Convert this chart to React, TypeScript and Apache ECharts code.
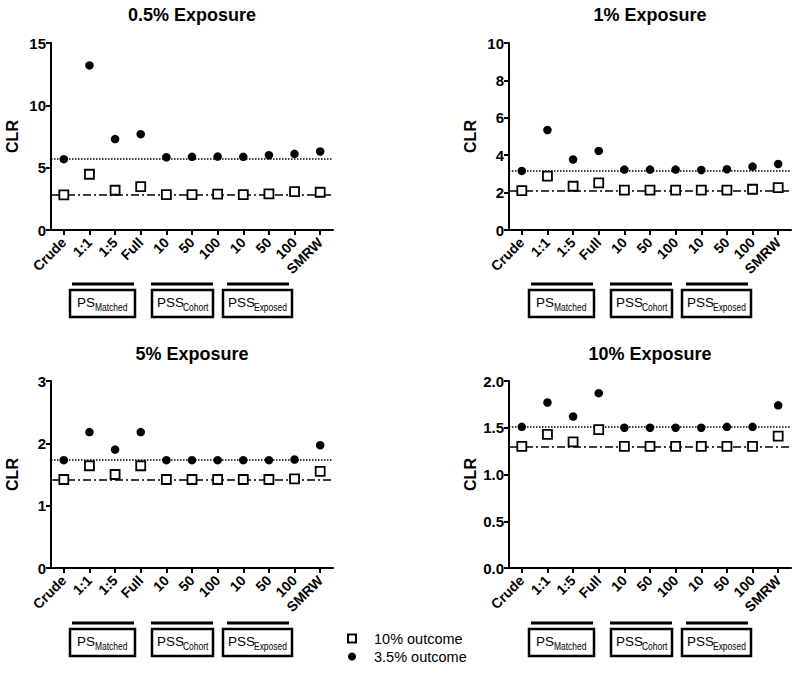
import React, { useEffect, useRef } from "react";
import * as echarts from "echarts";

const CATEGORIES = ["Crude", "1:1", "1:5", "Full", "10", "50", "100", "10", "50", "100", "SMRW"];
const TITLES = ["0.5% Exposure", "1% Exposure", "5% Exposure", "10% Exposure"];
const SERIES_NAMES = ["10% outcome", "3.5% outcome"];

// 0.5% exposure
const P05_OUT10 = [2.81, 4.47, 3.19, 3.48, 2.84, 2.84, 2.87, 2.84, 2.89, 3.08, 3.03];
const P05_OUT35 = [5.68, 13.2, 7.29, 7.69, 5.84, 5.87, 5.89, 5.87, 6.0, 6.11, 6.3];
// 1% exposure
const P1_OUT10 = [2.11, 2.88, 2.34, 2.52, 2.13, 2.13, 2.13, 2.13, 2.13, 2.18, 2.27];
const P1_OUT35 = [3.16, 5.35, 3.77, 4.23, 3.23, 3.23, 3.23, 3.21, 3.25, 3.39, 3.53];
// 5% exposure
const P5_OUT10 = [1.42, 1.64, 1.5, 1.64, 1.42, 1.42, 1.42, 1.42, 1.42, 1.43, 1.55];
const P5_OUT35 = [1.73, 2.18, 1.9, 2.18, 1.73, 1.73, 1.73, 1.73, 1.73, 1.74, 1.97];
// 10% exposure
const P10_OUT10 = [1.3, 1.43, 1.35, 1.48, 1.3, 1.3, 1.3, 1.3, 1.3, 1.3, 1.41];
const P10_OUT35 = [1.51, 1.77, 1.62, 1.87, 1.5, 1.5, 1.5, 1.5, 1.51, 1.51, 1.74];

// reference lines (crude values)
const REF_DOTTED = [5.68, 3.16, 1.73, 1.51];
const REF_DASHDOT = [2.81, 2.11, 1.42, 1.3];

const Y_MAX = [15, 10, 3, 2];
const Y_INTERVAL = [5, 2, 1, 0.5];
const Y_DECIMALS = [0, 0, 0, 1];

const GROUP_MAIN = ["PS", "PSS", "PSS"];
const GROUP_SUB = ["Matched", "Cohort", "Exposed"];

const OUT10 = [P05_OUT10, P1_OUT10, P5_OUT10, P10_OUT10];
const OUT35 = [P05_OUT35, P1_OUT35, P5_OUT35, P10_OUT35];

const FONT = '"Liberation Sans", Arial, Helvetica, sans-serif';

const PANELS = [
  { left: 51, top: 43, dx: 0, dy: 0, titleX: 192, titleY: 15 },
  { left: 509, top: 43, dx: 459, dy: 0, titleX: 650, titleY: 15 },
  { left: 51, top: 381, dx: 0, dy: 339, titleX: 192, titleY: 354 },
  { left: 509, top: 381, dx: 459, dy: 339, titleX: 650, titleY: 354 },
];

function buildGraphics() {
  const els: any[] = [];
  PANELS.forEach((p, i) => {
    els.push({
      type: "text",
      x: p.titleX,
      y: p.titleY,
      style: {
        text: TITLES[i],
        font: `bold 18px ${FONT}`,
        fill: "#000",
        textAlign: "center",
        textVerticalAlign: "middle",
        align: "center",
        verticalAlign: "middle",
      },
    });
    const lines = [
      [72, 134],
      [151, 213],
      [227, 289],
    ];
    const boxes = [
      [70, 65],
      [152, 61],
      [223, 69],
    ];
    const mainX = [77, 157, 228];
    const subX = [95, 183, 254];
    for (let g = 0; g < 3; g++) {
      els.push({
        type: "line",
        shape: { x1: lines[g][0] + p.dx, y1: 284 + p.dy, x2: lines[g][1] + p.dx, y2: 284 + p.dy },
        style: { stroke: "#000", lineWidth: 3 },
      });
      els.push({
        type: "rect",
        shape: { x: boxes[g][0] + p.dx, y: 290 + p.dy, width: boxes[g][1], height: 27 },
        style: { stroke: "#000", lineWidth: 2.5, fill: "#fff" },
      });
      els.push({
        type: "text",
        x: mainX[g] + p.dx,
        y: 302 + p.dy,
        style: {
          text: GROUP_MAIN[g],
          font: `13.5px ${FONT}`,
          fill: "#000",
          textAlign: "left",
          textVerticalAlign: "middle",
          align: "left",
          verticalAlign: "middle",
        },
        z: 10,
      });
      els.push({
        type: "text",
        x: subX[g] + p.dx,
        y: 307 + p.dy,
        scaleX: 0.77,
        style: {
          text: GROUP_SUB[g],
          font: `11px ${FONT}`,
          fill: "#000",
          textAlign: "left",
          textVerticalAlign: "middle",
          align: "left",
          verticalAlign: "middle",
        },
        z: 10,
      });
    }
  });
  return els;
}

export default function App() {
  const ref = useRef<HTMLDivElement>(null);
  useEffect(() => {
    if (!ref.current) return;
    const chart = echarts.init(ref.current, null, { renderer: "svg" });
    const grids = PANELS.map((p) => ({ left: p.left, top: p.top, width: 282, height: 187, containLabel: false }));
    const xAxes = PANELS.map((_, i) => ({
      type: "category",
      gridIndex: i,
      data: CATEGORIES,
      boundaryGap: true,
      axisLine: { show: true, lineStyle: { color: "#000", width: 2 } },
      axisTick: { show: true, alignWithLabel: true, interval: 0, length: 5, lineStyle: { color: "#000", width: 2 } },
      axisLabel: {
        interval: 0,
        rotate: 45,
        margin: 10,
        color: "#000",
        fontWeight: "bold",
        fontSize: 14,
        fontFamily: FONT,
      },
      splitLine: { show: false },
    }));
    const yAxes = PANELS.map((_, i) => ({
      type: "value",
      gridIndex: i,
      min: 0,
      max: Y_MAX[i],
      interval: Y_INTERVAL[i],
      name: "CLR",
      nameLocation: "middle",
      nameGap: 31,
      nameTextStyle: { color: "#000", fontWeight: "bold", fontSize: 16, fontFamily: FONT },
      axisLine: { show: true, lineStyle: { color: "#000", width: 2 } },
      axisTick: { show: true, length: 5, lineStyle: { color: "#000", width: 2 } },
      axisLabel: {
        color: "#000",
        fontWeight: "bold",
        fontSize: 15,
        fontFamily: FONT,
        margin: 5,
        formatter: (v: number) => v.toFixed(Y_DECIMALS[i]),
      },
      splitLine: { show: false },
    }));
    const series: any[] = [];
    PANELS.forEach((_, i) => {
      series.push({
        type: "line",
        name: "ref",
        xAxisIndex: i,
        yAxisIndex: i,
        data: [],
        z: 1,
        silent: true,
        markLine: {
          silent: true,
          symbol: ["none", "none"],
          label: { show: false },
          emphasis: { disabled: true },
          data: [
            { yAxis: REF_DOTTED[i], lineStyle: { type: "dotted", color: "#000", width: 1.5 } },
            { yAxis: REF_DASHDOT[i], lineStyle: { type: [8, 3, 2, 3], color: "#000", width: 1.5 } },
          ],
        },
      });
      series.push({
        type: "scatter",
        name: SERIES_NAMES[0],
        xAxisIndex: i,
        yAxisIndex: i,
        symbol: "rect",
        symbolSize: 9,
        z: 5,
        itemStyle: { color: "#fff", borderColor: "#000", borderWidth: 1.8, opacity: 1 },
        data: OUT10[i].map((v, k) => [k, v]),
      });
      series.push({
        type: "scatter",
        name: SERIES_NAMES[1],
        xAxisIndex: i,
        yAxisIndex: i,
        symbol: "circle",
        symbolSize: 8.5,
        z: 5,
        itemStyle: { color: "#000", opacity: 1 },
        data: OUT35[i].map((v, k) => [k, v]),
      });
    });
    chart.setOption({
      animation: false,
      backgroundColor: "#fff",
      textStyle: { fontFamily: FONT },
      grid: grids,
      xAxis: xAxes,
      yAxis: yAxes,
      legend: {
        orient: "vertical",
        left: 347,
        top: 631,
        padding: 0,
        itemWidth: 8,
        itemHeight: 8,
        itemGap: 3,
        selectedMode: false,
        data: [
          { name: SERIES_NAMES[0], icon: "rect" },
          { name: SERIES_NAMES[1], icon: "circle" },
        ],
        textStyle: { color: "#000", fontSize: 14.5, fontFamily: FONT, padding: [0, 0, 0, 13] },
      },
      series,
      graphic: buildGraphics(),
    });
    return () => chart.dispose();
  }, []);
  return (
    <div
      ref={ref}
      style={{ position: "fixed", left: 0, top: 0, width: 800, height: 675, background: "#fff" }}
    />
  );
}
